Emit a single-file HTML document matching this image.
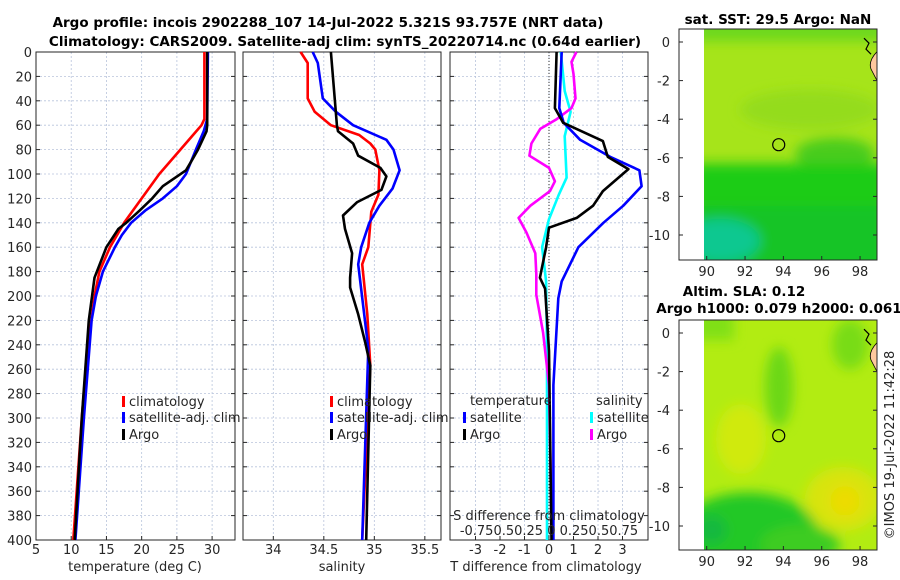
<!DOCTYPE html>
<html><head><meta charset="utf-8">
<style>
body{margin:0;background:#fff;}
svg{display:block;font-family:"DejaVu Sans","Liberation Sans",sans-serif;}
.t{font-size:13px;fill:#262626;}
.b{font-weight:bold;font-size:13.5px;fill:#000;}
</style></head>
<body>
<svg id="c" width="900" height="580" viewBox="0 0 900 580">
<defs><filter id="bl" x="-20%" y="-20%" width="140%" height="140%"><feGaussianBlur stdDeviation="6"/></filter></defs>
<text class="b" x="328" y="27" text-anchor="middle">Argo profile: incois 2902288_107 14-Jul-2022 5.321S 93.757E (NRT data)</text>
<text class="b" x="345" y="46" text-anchor="middle">Climatology: CARS2009. Satellite-adj clim: synTS_20220714.nc (0.64d earlier)</text>
<g id="g"></g>
</svg>
<script>
const depths=[0,20,40,60,80,100,120,140,160,180,200,220,240,260,280,300,320,340,360,380,400];
// Panel 1 temperature
const tArgoD=[0,60,65,80,90,97,110,120,130,140,145,160,185,220,300,400];
const tArgo=[29.3,29.3,29.2,28,27,26.3,23,21.5,19.7,17.8,16.7,15,13.3,12.5,11.5,10.5];
const tClimD=[0,55,60,70,80,100,120,140,160,180,200,250,300,400];
const tClim=[28.9,28.9,28.5,27,25.5,22.5,20,17.5,15.5,14,13.3,12.2,11.5,10.3];
const tSatD=[0,55,65,80,100,110,120,130,140,150,160,180,200,220,300,400];
const tSat=[29.4,29.3,28.8,27.7,26.3,25,23,20.5,18.5,17.2,16.2,14.5,13.5,12.9,11.8,10.6];
// Panel 2 salinity
const sArgoD=[0,60,65,75,85,95,102,113,123,134,145,165,185,193,215,238,257,400];
const sArgo=[34.57,34.63,34.64,34.79,34.84,35.06,35.12,35.07,34.83,34.69,34.71,34.78,34.76,34.76,34.84,34.91,34.96,34.92];
const sClimD=[0,9,38,49,60,68,75,80,97,117,131,160,174,215,257,400];
const sClim=[34.27,34.34,34.34,34.41,34.57,34.85,34.96,35.01,35.05,35.04,34.97,34.94,34.88,34.93,34.96,34.88];
const sSatD=[0,9,38,49,60,72,80,97,112,126,140,160,174,215,243,400];
const sSat=[34.39,34.44,34.49,34.62,34.79,35.12,35.19,35.25,35.18,35.05,34.95,34.87,34.84,34.90,34.94,34.88];
// Panel 3 differences
const dtArgoD=[0,46,58,73,86,96,114,126,136,144,160,185,194,245,400];
const dtArgo=[0.31,0.24,0.58,2.2,2.4,3.24,2.2,1.8,1.13,0,-0.12,-0.37,-0.16,0,0.1];
const dtSatD=[0,46,58,72,86,97,110,126,140,160,188,202,273,400];
const dtSat=[0.52,0.42,0.6,1.27,2.5,3.69,3.78,3.03,2.22,1.2,0.52,0.38,0.18,0.18];
const dsSatD=[0,32,49,69,103,117,137,160,188,245,400];
const dsSat=[0.12,0.16,0.22,0.16,0.18,0.10,0,-0.07,-0.03,-0.02,-0.02];
const dsArgoD=[0,8,18,38,46,55,63,75,85,95,106,114,126,136,148,165,182,199,230,273,400];
const dsArgo=[0.28,0.23,0.25,0.27,0.23,0.08,-0.09,-0.18,-0.2,0,0.06,0.01,-0.19,-0.31,-0.23,-0.14,-0.13,-0.13,-0.06,0,0.03];
const tTicks=[5,10,15,20,25,30], sTicks=[34,34.5,35,35.5], dTicks=[-3,-2,-1,0,1,2,3];
const lonTicks=[90,92,94,96,98], latTicks=[0,-2,-4,-6,-8,-10];

const NS='http://www.w3.org/2000/svg';
const G=document.getElementById('g');
function el(tag,at,parent){const e=document.createElementNS(NS,tag);for(const k in at)e.setAttribute(k,at[k]);(parent||G).appendChild(e);return e;}
const Y0=52,Y1=540;
const yD=d=>Y0+(Y1-Y0)*d/400;
const P=[
 {x0:36,x1:235,lo:5,hi:33.25},
 {x0:243,x1:441,lo:33.70,hi:35.66},
 {x0:450,x1:648,lo:-4.04,hi:4.04}];
const xf=(p,v)=>p.x0+(p.x1-p.x0)*(v-p.lo)/(p.hi-p.lo);
const xS=v=>549+v*98;
const panelTicks=[tTicks,sTicks,dTicks];
const panelNames=['temperature-panel','salinity-panel','difference-panel'];
P.forEach((p,i)=>{
  const g=el('g',{});
  
  
  panelTicks[i].forEach(v=>{const x=xf(p,v);
    const l=el('line',{x1:x,x2:x,y1:Y0,y2:Y1,stroke:'#b8c4dc','stroke-width':0.8,'stroke-dasharray':'2,2'},g);
    
    el('line',{x1:x,x2:x,y1:Y1,y2:Y1-4,stroke:'#262626'},g);
    const t=el('text',{x:x,y:Y1+14,'text-anchor':'middle',class:'t'},g);t.textContent=String(v);
    
  });
  depths.forEach(d=>{const y=yD(d);
    el('line',{x1:p.x0,x2:p.x1,y1:y,y2:y,stroke:'#b8c4dc','stroke-width':0.8,'stroke-dasharray':'2,2'},g);
    el('line',{x1:p.x0,x2:p.x0+4,y1:y,y2:y,stroke:'#262626'},g);
    el('line',{x1:p.x1,x2:p.x1-4,y1:y,y2:y,stroke:'#262626'},g);
    if(i===0){const t=el('text',{x:p.x0-4,y:y+5,'text-anchor':'end',class:'t'},g);t.textContent=String(d);
      }
  });
  el('rect',{x:p.x0,y:Y0,width:p.x1-p.x0,height:Y1-Y0,fill:'none',stroke:'#262626','stroke-width':1},g);
});
function line(D,V,fx,color,name){
  const pts=D.map((d,k)=>fx(V[k]).toFixed(1)+','+yD(d).toFixed(1)).join(' ');
  const e=el('polyline',{points:pts,fill:'none',stroke:color,'stroke-width':2.6,'stroke-linejoin':'round'});
  
}
const z=el('line',{x1:549,x2:549,y1:Y0,y2:Y1,stroke:'#333','stroke-width':1,'stroke-dasharray':'1,2'});

line(tClimD,tClim,v=>xf(P[0],v),'#ff0000','temp-climatology-line');
line(tSatD,tSat,v=>xf(P[0],v),'#0000ff','temp-satellite-line');
line(tArgoD,tArgo,v=>xf(P[0],v),'#000000','temp-argo-line');
line(sClimD,sClim,v=>xf(P[1],v),'#ff0000','sal-climatology-line');
line(sSatD,sSat,v=>xf(P[1],v),'#0000ff','sal-satellite-line');
line(sArgoD,sArgo,v=>xf(P[1],v),'#000000','sal-argo-line');
line(dsSatD,dsSat,xS,'#00ffff','sdiff-satellite-line');
line(dsArgoD,dsArgo,xS,'#ff00ff','sdiff-argo-line');
line(dtSatD,dtSat,v=>xf(P[2],v),'#0000ff','tdiff-satellite-line');
line(dtArgoD,dtArgo,v=>xf(P[2],v),'#000000','tdiff-argo-line');

function txt(x,y,s,name,extra){const t=el('text',Object.assign({x:x,y:y,class:'t'},extra||{}));t.textContent=s;
  return t;}
function leg(x,y,color,label,name){
  const r=el('rect',{x:x,y:y-10,width:3,height:11,fill:color});
  
  txt(x+7,y,label,name);
}
[[122,0],[330,1]].forEach(([lx,i])=>{
  leg(lx,406,'#ff0000','climatology','legend-climatology');
  leg(lx,422,'#0000ff','satellite-adj. clim','legend-satellite-adj');
  leg(lx,439,'#000000','Argo','legend-argo');
});
txt(470,405,'temperature','legend-temperature-header');
leg(463,422,'#0000ff','satellite','legend-t-satellite');
leg(463,439,'#000000','Argo','legend-t-argo');
txt(596,405,'salinity','legend-salinity-header');
leg(590,422,'#00ffff','satellite','legend-s-satellite');
leg(590,439,'#ff00ff','Argo','legend-s-argo');
txt(549,520,'S difference from climatology','s-axis-title',{'text-anchor':'middle'});
txt(549,535,'-0.750.50.25 0 0.250.50.75','s-axis-tick-labels',{'text-anchor':'middle'});
txt(135,571,'temperature (deg C)','x-axis-title-temperature',{'text-anchor':'middle'});
txt(342,571,'salinity','x-axis-title-salinity',{'text-anchor':'middle'});
txt(546,571,'T difference from climatology','x-axis-title-tdiff',{'text-anchor':'middle'});

// Maps
const maps=[{top:29,bot:260,lat0:42,name:'sst-map',title:['sat. SST: 29.5 Argo: NaN'],ty:[24],tx:[778]},
            {top:320,bot:550,lat0:333,name:'sla-map',title:['Altim. SLA: 0.12','Argo h1000: 0.079 h2000: 0.061'],ty:[296,313],tx:[744,779]}];
const MX0=679,MX1=877,DX0=704;
const lonX=l=>706.7+(l-90)*19.17;
maps.forEach((m,mi)=>{
  const latY=la=>m.lat0+(-la)*19.3;
  const g=el('g',{});
  const cid='clip'+mi;
  const cp=el('clipPath',{id:cid},g);el('rect',{x:DX0,y:m.top,width:MX1-DX0,height:m.bot-m.top},cp);
  const f0=el('g',{'clip-path':'url(#'+cid+')'},g);
  const W=MX1-DX0;
  if(mi===0){
    el('rect',{x:DX0,y:m.top,width:W,height:m.bot-m.top,fill:'#a6e41a'},f0);
    const f=el('g',{filter:'url(#bl)'},f0);
    el('rect',{x:DX0-10,y:m.top-10,width:W+20,height:22,fill:'#6cd81c'},f);
    el('ellipse',{cx:810,cy:latY(-3.5),rx:70,ry:20,fill:'#94dc1c'},f);
    el('ellipse',{cx:835,cy:latY(-5.8),rx:40,ry:16,fill:'#48cc1c'},f);
    el('rect',{x:DX0-10,y:latY(-6.3),width:W+20,height:120,fill:'#1ccc18'},f);
    el('rect',{x:DX0-10,y:latY(-8.5),width:W+20,height:80,fill:'#14c428'},f);
    el('ellipse',{cx:720,cy:latY(-10.3),rx:40,ry:22,fill:'#10c890'},f);
  } else {
    el('rect',{x:DX0,y:m.top,width:W,height:m.bot-m.top,fill:'#b2ec12'},f0);
    const f=el('g',{filter:'url(#bl)'},f0);
    el('rect',{x:DX0-10,y:m.top-10,width:40,height:30,fill:'#80e018'},f);
    el('ellipse',{cx:779,cy:latY(-2.8),rx:14,ry:40,fill:'#6cd818'},f);
    el('ellipse',{cx:850,cy:latY(-0.6),rx:18,ry:25,fill:'#78dc18'},f);
    el('ellipse',{cx:741,cy:latY(-5.5),rx:25,ry:35,fill:'#d0ea0c'},f);
    el('ellipse',{cx:843,cy:latY(-8.6),rx:38,ry:32,fill:'#d8e40c'},f);
    el('ellipse',{cx:845,cy:latY(-8.7),rx:15,ry:15,fill:'#ecdc06'},f);
    el('ellipse',{cx:748,cy:latY(-10.6),rx:72,ry:45,fill:'#22c828'},f);
    el('ellipse',{cx:800,cy:latY(-11),rx:40,ry:20,fill:'#3ccc24'},f);
    el('ellipse',{cx:712,cy:latY(-10.2),rx:14,ry:14,fill:'#14b840'},f);
  }
  el('path',{d:'M877 '+latY(-0.5)+' Q868 '+latY(-1)+' 871 '+latY(-1.4)+' L877 '+latY(-2)+' Z',fill:'#ffc89e',stroke:'#000','stroke-width':0.8},f0);
  el('path',{d:'M864 '+latY(0.2)+' l5 5 l-3 6 l5 5',fill:'none',stroke:'#000','stroke-width':1.2},f0);
  el('rect',{x:MX0,y:m.top,width:MX1-MX0,height:m.bot-m.top,fill:'none',stroke:'#262626'},g);
  const mk=el('circle',{cx:lonX(93.757),cy:latY(-5.321),r:6,fill:'none',stroke:'#000','stroke-width':1.2},g);
  
  lonTicks.forEach(l=>{const x=lonX(l);el('line',{x1:x,x2:x,y1:m.bot,y2:m.bot-4,stroke:'#262626'},g);
    const t=el('text',{x:x,y:m.bot+16,'text-anchor':'middle',class:'t'},g);t.textContent=String(l);
    });
  latTicks.forEach(la=>{const y=latY(la);el('line',{x1:MX0,x2:MX0+4,y1:y,y2:y,stroke:'#262626'},g);
    el('line',{x1:MX1,x2:MX1-4,y1:y,y2:y,stroke:'#262626'},g);
    const t=el('text',{x:MX0-9,y:y+5,'text-anchor':'end',class:'t'},g);t.textContent=String(la);
    });
  m.title.forEach((s,k)=>{const t=el('text',{x:m.tx[k],y:m.ty[k],'text-anchor':'middle',class:'b'},g);
    t.textContent=s;});
});
txt(894,445,'©IMOS 19-Jul-2022 11:42:28','copyright-timestamp',{'text-anchor':'middle',transform:'rotate(-90 894 445)'});
</script>
</body></html>
